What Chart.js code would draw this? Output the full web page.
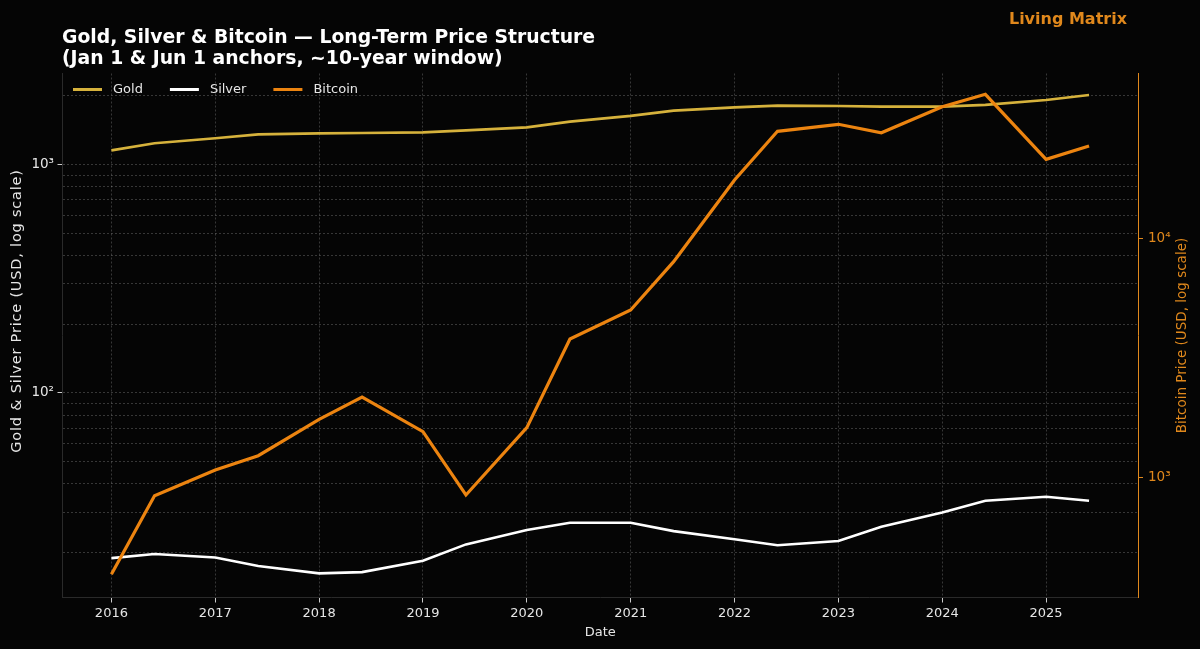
<!DOCTYPE html>
<html>
<head>
<meta charset="utf-8">
<script src="https://cdn.jsdelivr.net/npm/chart.js@4.4.1/dist/chart.umd.min.js"></script>
<style>
  html, body { margin: 0; padding: 0; background: #050505; }
  #wrap { width: 1200px; height: 649px; position: relative; }
</style>
</head>
<body>
<div id="wrap"><canvas id="c"></canvas></div>
<script>
// ---- Data ----
const dates = [
  "2016-01-01","2016-06-01","2017-01-01","2017-06-01","2018-01-01","2018-06-01",
  "2019-01-01","2019-06-01","2020-01-01","2020-06-01","2021-01-01","2021-06-01",
  "2022-01-01","2022-06-01","2023-01-01","2023-06-01","2024-01-01","2024-06-01",
  "2025-01-01","2025-06-01"
];
const gold = [1155, 1240, 1304, 1357, 1371, 1375, 1385, 1413, 1456, 1541,
              1633, 1722, 1782, 1811, 1806, 1793, 1793, 1828, 1918, 2018];
const silver = [18.9, 19.7, 19.0, 17.45, 16.2, 16.4, 18.4, 21.7, 25.1, 27.0,
                27.0, 24.8, 22.85, 21.5, 22.45, 25.9, 29.9, 33.7, 35.1, 33.7];
const bitcoin = [395, 841, 1077, 1236, 1753, 2173, 1557, 847, 1618, 3796,
                 5017, 7987, 17520, 27990, 29940, 27610, 35450, 39950, 21380, 24300];
const yearTicks = [2016, 2017, 2018, 2019, 2020, 2021, 2022, 2023, 2024, 2025];
const leftTicks = [20, 30, 40, 50, 60, 70, 80, 90, 100, 200, 300, 400, 500, 600, 700, 800, 900, 1000, 2000];
const rightTicks = [1000, 10000];

const titleLines = ["Gold, Silver & Bitcoin \u2014 Long-Term Price Structure",
                    "(Jan 1 & Jun 1 anchors, ~10-year window)"];
const brand = "Living Matrix";

// ---- helpers ----
function toYear(s) {
  const d = Date.parse(s + "T00:00:00Z");
  const y = new Date(d).getUTCFullYear();
  const a = Date.UTC(y, 0, 1), b = Date.UTC(y + 1, 0, 1);
  return y + (d - a) / (b - a);
}
const xs = dates.map(toYear);
const pts = arr => arr.map((v, i) => ({ x: xs[i], y: v }));
const sup = { "0": "\u2070", "1": "\u00B9", "2": "\u00B2", "3": "\u00B3", "4": "\u2074", "5": "\u2075" };
function powLabel(v) {
  const e = Math.log10(v);
  if (Math.abs(e - Math.round(e)) < 1e-9) return "10" + String(Math.round(e)).split("").map(c => sup[c]).join("");
  return "";
}

const GOLD = "#D6B23C", SILVER = "#FFFFFF", BTC = "#EC8410", ORANGE = "#E0881C";
const FONT = "'DejaVu Sans', 'Noto Sans', sans-serif";
const isPow = v => Math.abs(Math.log10(v) - Math.round(Math.log10(v))) < 1e-9;

const decor = {
  id: "decor",
  beforeDraw(chart) {
    const ctx = chart.ctx;
    ctx.save();
    ctx.fillStyle = "#050505";
    ctx.fillRect(0, 0, chart.width, chart.height);
    ctx.restore();
  },
  afterDraw(chart) {
    const ctx = chart.ctx;
    const a = chart.chartArea;
    ctx.save();
    // title
    ctx.fillStyle = "#ffffff";
    ctx.font = "bold 18.8px " + FONT;
    ctx.textAlign = "left";
    ctx.textBaseline = "alphabetic";
    ctx.fillText(titleLines[0], 62, 43);
    ctx.fillText(titleLines[1], 62, 64);
    // brand
    ctx.fillStyle = ORANGE;
    ctx.font = "bold 16px " + FONT;
    ctx.textAlign = "right";
    ctx.fillText(brand, 1127, 23.5);
    // axis titles
    ctx.textAlign = "center";
    ctx.textBaseline = "middle";
    ctx.fillStyle = "#e6e6e6";
    ctx.font = "13px " + FONT;
    ctx.fillText("Date", (a.left + a.right) / 2, 633);
    ctx.save();
    ctx.font = "14.5px " + FONT;
    if ("letterSpacing" in ctx) ctx.letterSpacing = "0.8px";
    ctx.translate(17, 311);
    ctx.rotate(-Math.PI / 2);
    ctx.fillText("Gold & Silver Price (USD, log scale)", 0, 0);
    ctx.restore();
    ctx.save();
    ctx.font = "13.5px " + FONT;
    ctx.fillStyle = ORANGE;
    ctx.translate(1182, (a.top + a.bottom) / 2);
    ctx.rotate(-Math.PI / 2);
    ctx.fillText("Bitcoin Price (USD, log scale)", 0, 0);
    ctx.restore();
    // legend
    const items = [0, 1, 2].map(i => chart.data.datasets[i]);
    let x = 73;
    const ly = 89.5;
    ctx.font = "13px " + FONT;
    ctx.textAlign = "left";
    ctx.textBaseline = "middle";
    items.forEach(ds => {
      ctx.strokeStyle = ds.borderColor;
      ctx.lineWidth = 3;
      ctx.beginPath();
      ctx.moveTo(x, ly);
      ctx.lineTo(x + 29, ly);
      ctx.stroke();
      ctx.fillStyle = "#e6e6e6";
      ctx.fillText(ds.label, x + 40, ly);
      x += 40 + ctx.measureText(ds.label).width + 27;
    });
    ctx.restore();
  }
};

new Chart(document.getElementById("c"), {
  type: "line",
  data: {
    datasets: [
      { label: "Gold", data: pts(gold), borderColor: GOLD, borderWidth: 2.7, yAxisID: "yL", order: 2 },
      { label: "Silver", data: pts(silver), borderColor: SILVER, borderWidth: 2.6, yAxisID: "yL", order: 1 },
      { label: "Bitcoin", data: pts(bitcoin), borderColor: BTC, borderWidth: 3.2, yAxisID: "yR", order: 0 }
    ]
  },
  options: {
    responsive: true,
    maintainAspectRatio: false,
    animation: false,
    parsing: false,
    layout: { padding: { top: 73.5, left: 0, right: 0, bottom: 0 } },
    elements: { point: { radius: 0, hoverRadius: 0 }, line: { tension: 0, borderCapStyle: "butt", borderJoinStyle: "miter" } },
    plugins: { legend: { display: false }, title: { display: false }, tooltip: { enabled: false } },
    scales: {
      x: {
        type: "linear",
        min: 2015.529, max: 2025.885,
        afterBuildTicks: s => { s.ticks = yearTicks.map(v => ({ value: v })); },
        afterFit: s => { s.height = 51.5; },
        ticks: { autoSkip: false, maxRotation: 0, color: "#e6e6e6", font: { family: FONT, size: 13 }, padding: 3,
                 callback: v => String(v) },
        grid: { color: "rgba(255,255,255,0.2)", lineWidth: 1, tickColor: "#cccccc", tickLength: 5, tickWidth: 1 },
        border: { display: true, color: "#2a2a2a", width: 1, dash: [2, 2] }
      },
      yL: {
        type: "logarithmic",
        position: "left",
        min: 12.7, max: 2506,
        afterBuildTicks: s => { s.ticks = leftTicks.map(v => ({ value: v, major: isPow(v) })); },
        afterFit: s => { s.width = 62.5; },
        ticks: { autoSkip: false, color: "#e6e6e6", font: { family: FONT, size: 13.5 }, padding: 3.5,
                 callback: v => powLabel(v) },
        grid: { color: "rgba(255,255,255,0.2)", lineWidth: 1,
                tickColor: c => (c.tick && isPow(c.tick.value)) ? "#cccccc" : "rgba(0,0,0,0)",
                tickLength: 5, tickWidth: 1 },
        border: { display: true, color: "#2a2a2a", width: 1, dash: [2, 2] }
      },
      yR: {
        type: "logarithmic",
        position: "right",
        min: 316, max: 48800,
        afterBuildTicks: s => { s.ticks = rightTicks.map(v => ({ value: v, major: true })); },
        afterFit: s => { s.width = 62; },
        ticks: { autoSkip: false, color: ORANGE, font: { family: FONT, size: 13.5 }, padding: 5,
                 callback: v => powLabel(v) },
        grid: { drawOnChartArea: false, tickColor: ORANGE, tickLength: 5, tickWidth: 1 },
        border: { display: true, color: ORANGE, width: 1 }
      }
    }
  },
  plugins: [decor]
});
</script>
</body>
</html>
